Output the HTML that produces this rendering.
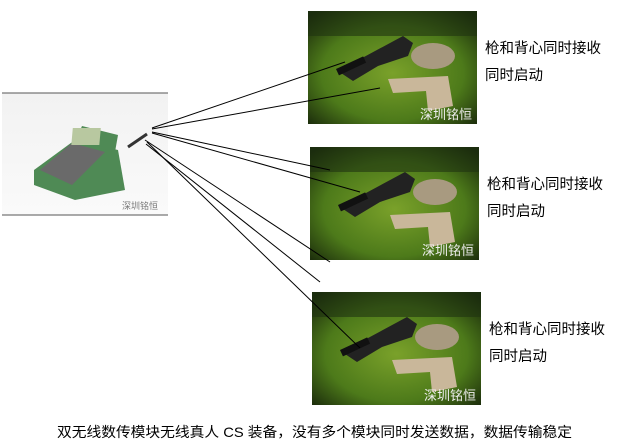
<!DOCTYPE html>
<html><head><meta charset="utf-8"><style>
html,body{margin:0;padding:0;background:#fff;width:624px;height:446px;overflow:hidden}
svg{display:block}
text{font-family:"Liberation Sans","Noto Sans CJK SC",sans-serif;fill:#000}
</style></head><body>
<svg width="624" height="446" viewBox="0 0 624 446">
<defs>
<radialGradient id="g" cx="50%" cy="55%" r="70%">
<stop offset="0" stop-color="#7aa12a"/><stop offset="0.6" stop-color="#4d7a1a"/><stop offset="1" stop-color="#16240a"/>
</radialGradient>
<linearGradient id="d" x1="0" y1="0" x2="0" y2="1"><stop offset="0" stop-color="#f2f2f2"/><stop offset="1" stop-color="#fafafa"/></linearGradient>
<g id="photo">
<rect width="169" height="113" fill="url(#g)"/>
<rect width="169" height="25" fill="#1f3410" opacity="0.6"/>
<path d="M30 60 L95 25 L105 32 L100 45 L70 55 L45 70 Z" fill="#222"/>
<rect x="28" y="58" width="30" height="7" fill="#111" transform="rotate(-25 28 58)"/>
<ellipse cx="125" cy="45" rx="22" ry="13" fill="#a89a80"/>
<path d="M80 68 L140 65 L145 95 L120 100 L118 80 L85 82 Z" fill="#c9b79a"/>
<text x="112" y="108" font-size="13" style="fill:#eee">深圳铭恒</text>
</g>
</defs>
<rect x="2" y="93" width="166" height="122" fill="url(#d)"/>
<line x1="2" y1="93" x2="168" y2="93" stroke="#555"/>
<line x1="2" y1="215" x2="168" y2="215" stroke="#555"/>
<path d="M34 170 L75 140 L118 150 L125 190 L75 200 L34 185 Z" fill="#4f8a55"/>
<path d="M40 170 L72 143 L105 152 L72 185 Z" fill="#6a6a6a"/>
<path d="M82 126 L118 135 L115 152 L75 142 Z" fill="#4f8a55"/>
<rect x="84" y="128" width="28" height="17" fill="#b8c8a0" transform="skewX(-5)"/>
<line x1="128" y1="147" x2="147" y2="134" stroke="#333" stroke-width="3"/>
<text x="122" y="209" font-size="9" style="fill:#777">深圳铭恒</text>
<use href="#photo" x="308" y="11"/>
<use href="#photo" x="310" y="147"/>
<use href="#photo" x="312" y="292"/>
<g stroke="#000" stroke-width="1" fill="none">
<line x1="152" y1="128" x2="345" y2="62"/>
<line x1="152" y1="129" x2="380" y2="88"/>
<line x1="152" y1="132" x2="330" y2="170"/>
<line x1="152" y1="133" x2="360" y2="192"/>
<line x1="145" y1="140" x2="330" y2="262"/>
<line x1="147" y1="142" x2="360" y2="348"/>
<line x1="146" y1="144" x2="320" y2="282"/>
</g>
<g font-size="14.5">
<text x="485" y="53">枪和背心同时接收</text>
<text x="485" y="80">同时启动</text>
<text x="487" y="189">枪和背心同时接收</text>
<text x="487" y="216">同时启动</text>
<text x="489" y="334">枪和背心同时接收</text>
<text x="489" y="361">同时启动</text>
</g>
<text x="57" y="437" font-size="14" textLength="515" lengthAdjust="spacingAndGlyphs">双无线数传模块无线真人 CS 装备，没有多个模块同时发送数据，数据传输稳定</text>
</svg>
</body></html>
